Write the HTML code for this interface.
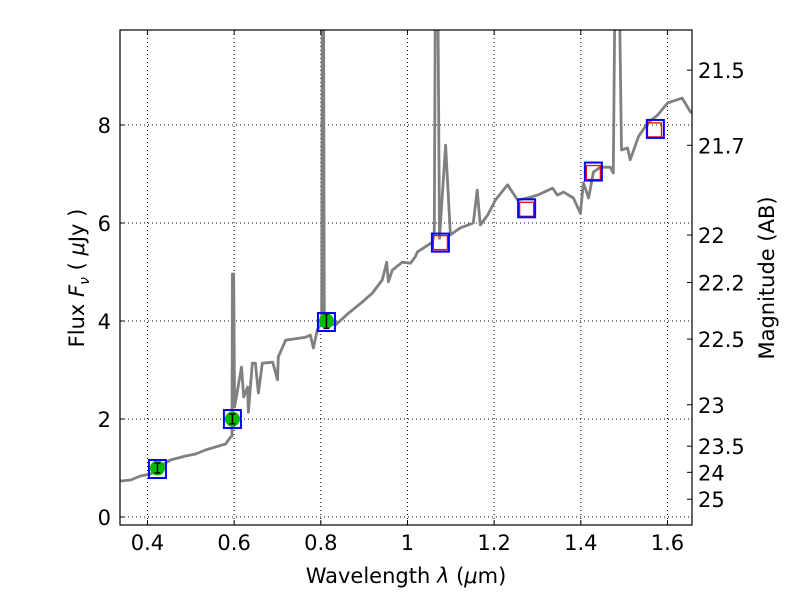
<!DOCTYPE html>
<html><head><meta charset="utf-8"><style>
body{margin:0;background:#fff}
svg{display:block}
text{font-family:"DejaVu Sans","Liberation Sans",sans-serif;fill:#000}
</style></head><body>
<svg id="chart" width="800" height="600" viewBox="0 0 800 600"></svg>
<script>
const specLam=[0.338,0.361,0.384,0.407,0.430,0.453,0.488,0.511,0.534,0.557,0.580,0.592,0.595,0.596,0.599,0.601,0.617,0.622,0.631,0.633,0.642,0.649,0.656,0.665,0.689,0.700,0.702,0.719,0.765,0.776,0.783,0.792,0.802,0.804,0.806,0.808,0.834,0.864,0.896,0.919,0.942,0.952,0.956,0.965,0.988,1.007,1.018,1.023,1.058,1.062,1.065,1.069,1.074,1.088,1.099,1.122,1.152,1.161,1.168,1.185,1.203,1.231,1.254,1.277,1.300,1.335,1.346,1.360,1.383,1.399,1.406,1.418,1.429,1.445,1.468,1.475,1.480,1.487,1.494,1.508,1.514,1.533,1.554,1.577,1.600,1.634,1.653,1.670];
const specFlux=[0.735,0.755,0.837,0.878,1.041,1.163,1.245,1.286,1.367,1.429,1.490,1.633,1.65,4.96,4.96,2.245,3.06,2.45,2.65,2.14,3.14,3.14,2.53,3.14,3.16,2.80,3.27,3.61,3.67,3.71,3.45,3.82,3.96,12,12,3.96,3.92,4.16,4.39,4.57,4.84,5.20,4.80,5.04,5.20,5.18,5.31,5.41,5.61,5.85,12,12,5.69,7.59,5.76,5.90,6.00,6.67,5.96,6.16,6.47,6.78,6.47,6.51,6.57,6.71,6.57,6.63,6.51,6.20,6.82,6.51,7.04,7.14,7.14,7.02,12,12,7.49,7.53,7.29,7.76,8.04,8.20,8.45,8.55,8.27,8.2];
const obsLam=[0.423,0.596,0.813];
const obsFlux=[1.0,2.0,4.0];
const obsErr=[0.1,0.1,0.15];
const modelLam=[0.423,0.596,0.813,1.076,1.275,1.429,1.572];
const modelFlux=[0.98,2.0,3.98,5.6,6.3,7.05,7.92];
const predLam=[1.076,1.275,1.429,1.570];
const predFlux=[5.6,6.28,7.03,7.9];
const xTicks=[0.4,0.6,0.8,1.0,1.2,1.4,1.6];
const xTickLabels=["0.4","0.6","0.8","1","1.2","1.4","1.6"];
const yTicks=[0,2,4,6,8];
const magTicks=[21.5,21.7,22,22.2,22.5,23,23.5,24,25];
const magLabels=["21.5","21.7","22","22.2","22.5","23","23.5","24","25"];

const L=120,R=692,T=30,B=525;
const xMin=0.3366,xMax=1.6566,yMin=-0.163,yMax=9.939;
const sx=v=>L+(v-xMin)/(xMax-xMin)*(R-L);
const sy=v=>B-(v-yMin)/(yMax-yMin)*(B-T);
const NS="http://www.w3.org/2000/svg";
const svg=document.getElementById('chart');
function mk(tag,attrs,parent){const e=document.createElementNS(NS,tag);for(const k in attrs)e.setAttribute(k,attrs[k]);(parent||svg).appendChild(e);return e;}

const defs=mk('defs',{});
const cp=mk('clipPath',{id:'clip'},defs);
mk('rect',{x:L,y:T,width:R-L,height:B-T},cp);

const grid=mk('g',{});


xTicks.forEach(v=>{mk('line',{x1:sx(v),x2:sx(v),y1:T,y2:B,stroke:'#000','stroke-width':1,'stroke-dasharray':'1,3'},grid);});
yTicks.forEach(v=>{mk('line',{x1:L,x2:R,y1:sy(v),y2:sy(v),stroke:'#000','stroke-width':1,'stroke-dasharray':'1,3'},grid);});

const pts=specLam.map((l,i)=>sx(l).toFixed(1)+','+sy(specFlux[i]).toFixed(1)).join(' ');
const sp=mk('polyline',{points:pts,fill:'none',stroke:'#808080','stroke-width':2.8,'stroke-linejoin':'round','clip-path':'url(#clip)'});



obsLam.forEach((l,i)=>{
  const g=mk('g',{});
  
  
  const cx=sx(l),cy=sy(obsFlux[i]);
  mk('circle',{cx:cx,cy:cy,r:7.5,fill:'#00bb00'},g);
  const y1=sy(obsFlux[i]+obsErr[i]),y2=sy(obsFlux[i]-obsErr[i]);
  mk('line',{x1:cx,x2:cx,y1:y1,y2:y2,stroke:'#000','stroke-width':1.5},g);
  mk('line',{x1:cx-3,x2:cx+3,y1:y1,y2:y1,stroke:'#000','stroke-width':1.5},g);
  mk('line',{x1:cx-3,x2:cx+3,y1:y2,y2:y2,stroke:'#000','stroke-width':1.5},g);
});
predLam.forEach((l,i)=>{
  const r=mk('rect',{x:sx(l)-7,y:sy(predFlux[i])-7,width:14,height:14,fill:'none',stroke:'#ff0000','stroke-width':1.3});
  
  
});
modelLam.forEach((l,i)=>{
  const r=mk('rect',{x:sx(l)-8.5,y:sy(modelFlux[i])-9,width:17,height:18,fill:'none',stroke:'#0000ff','stroke-width':2});
  
  
});

const fr=mk('rect',{x:L,y:T,width:R-L,height:B-T,fill:'none',stroke:'#000','stroke-width':1.2});



xTicks.forEach((v,i)=>{
  const x=sx(v);
  mk('line',{x1:x,x2:x,y1:B,y2:B-5,stroke:'#000'});
  mk('line',{x1:x,x2:x,y1:T,y2:T+5,stroke:'#000'});
  const t=mk('text',{x:x,y:B+25,'font-size':21,'text-anchor':'middle'});
  t.textContent=xTickLabels[i];
  
  
});
yTicks.forEach(v=>{
  const y=sy(v);
  mk('line',{x1:L,x2:L+5,y1:y,y2:y,stroke:'#000'});
  const t=mk('text',{x:L-9,y:y+8,'font-size':21,'text-anchor':'end'});
  t.textContent=String(v);
  
  
});
magTicks.forEach((m,i)=>{
  const y=sy(Math.pow(10,(23.9-m)/2.5));
  mk('line',{x1:R,x2:R-5,y1:y,y2:y,stroke:'#000'});
  const t=mk('text',{x:R+6,y:y+8,'font-size':21,'text-anchor':'start'});
  t.textContent=magLabels[i];
  
  
});
</script>
<div style="position:absolute;left:0;top:0;width:800px;height:600px;pointer-events:none">
<svg width="800" height="600">
<text x="406" y="583" font-size="21" text-anchor="middle">Wavelength  <tspan font-style="italic">λ</tspan> (<tspan font-style="italic">μ</tspan>m)</text>
<text transform="translate(84,278) rotate(-90)" font-size="21" text-anchor="middle">Flux  <tspan font-style="italic">F</tspan><tspan font-style="italic" font-size="14" dy="5">ν</tspan><tspan dy="-5">  (  </tspan><tspan font-style="italic">μ</tspan>Jy )</text>
<text transform="translate(774,278) rotate(-90)" font-size="21" text-anchor="middle">Magnitude (AB)</text>
</svg></div>
</body></html>
